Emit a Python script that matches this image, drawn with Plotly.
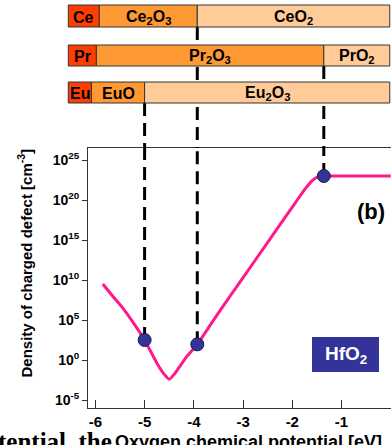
import plotly.graph_objects as go

# ---------------- data ----------------
# oxygen chemical potential (eV) and density of charged defect (cm^-3)
mu_o = [-5.85, -5.65, -5.43, -5.2, -5.0, -4.75, -4.6, -4.5, -4.4, -4.15, -3.93,
        -3.5, -3.0, -2.5, -2.0, -1.75, -1.6, -1.5, -1.42, -1.36, -0.7, 0.0]
density = [3.2e9, 1.0e8, 2.5e6, 2.5e4, 3.2e2, 0.4, 0.016, 0.004, 0.016, 2.5, 91,
           8.0e5, 2.0e10, 5.0e14, 1.3e19, 2.0e21, 2.5e22, 7.0e22, 1.0e23, 1.0e23, 1.0e23, 1.0e23]

# phase transition points marked with dots and dashed lines
trans_x = [-5.0, -3.93, -1.36]
trans_y = [3.2e2, 91, 1.0e23]

# phase bars (boundaries along the oxygen chemical potential)
ce_bounds = [-6.55, -5.92, -3.93, -0.02]
ce_labels = ["Ce", "Ce<sub>2</sub>O<sub>3</sub>", "CeO<sub>2</sub>"]
pr_bounds = [-6.55, -5.98, -1.36, -0.02]
pr_labels = ["Pr", "Pr<sub>2</sub>O<sub>3</sub>", "PrO<sub>2</sub>"]
eu_bounds = [-6.55, -6.08, -5.0, -0.02]
eu_labels = ["Eu", "EuO", "Eu<sub>2</sub>O<sub>3</sub>"]

x_tickvals = [-6, -5, -4, -3, -2, -1, 0]
x_ticktext = ["-6", "-5", "-4", "-3", "-2", "-1", "0"]
y_tickvals = [1e-5, 1e0, 1e5, 1e10, 1e15, 1e20, 1e25]
y_ticktext = ["10<sup>-5</sup>", "10<sup>0</sup>", "10<sup>5</sup>", "10<sup>10</sup>",
              "10<sup>15</sup>", "10<sup>20</sup>", "10<sup>25</sup>"]

# ---------------- layout geometry ----------------
W, H = 391, 445
PLOT_LEFT = 88          # px of y axis line
PLOT_TOP = 148          # px of plot top
PLOT_BOTTOM = 408       # px of x axis line
X_RANGE = [-6.15, 0.005]
Y_RANGE_LOG = [-6, 26.5]

px_per_unit = (W - PLOT_LEFT) / (X_RANGE[1] - X_RANGE[0])
x2_range = [X_RANGE[0] - PLOT_LEFT / px_per_unit, X_RANGE[1]]

rows_px = {"ce": (5, 27), "pr": (45, 66), "eu": (82, 103)}

FONT = "Liberation Sans, Arial, sans-serif"
PINK = "#FF1A8C"
DOT = "#333399"
COLS = ["#FF3D00", "#FF9933", "#FFCC99"]

fig = go.Figure()

# invisible trace to instantiate the overlay axes
fig.add_trace(go.Scatter(x=[x2_range[0]], y=[0], mode="markers", marker=dict(opacity=0),
                         hoverinfo="skip", showlegend=False, xaxis="x2", yaxis="y2"))

# dashed lines inside the plot (from dot upward, clipped by plot top)
for xv, yv in zip(trans_x, trans_y):
    fig.add_trace(go.Scatter(x=[xv, xv], y=[yv, 1e30], mode="lines",
                             line=dict(color="black", width=3, dash="13px,7px"),
                             hoverinfo="skip", showlegend=False, xaxis="x", yaxis="y"))

fig.add_trace(go.Scatter(x=mu_o, y=density, mode="lines",
                         line=dict(color=PINK, width=3, shape="spline", smoothing=0.5),
                         showlegend=False, xaxis="x", yaxis="y"))
fig.add_trace(go.Scatter(x=trans_x, y=trans_y, mode="markers",
                         marker=dict(color=DOT, size=13, line=dict(color="#1a1a4d", width=1)),
                         showlegend=False, xaxis="x", yaxis="y"))

shapes = []
annotations = []

# dashed lines above the plot (from the phase bar down to plot top)
line_starts = {trans_x[0]: rows_px["eu"][1], trans_x[1]: rows_px["ce"][1], trans_x[2]: rows_px["pr"][1]}
for xv in trans_x:
    shapes.append(dict(type="line", xref="x2", yref="y2", x0=xv, x1=xv,
                       y0=line_starts[xv], y1=PLOT_TOP,
                       line=dict(color="black", width=3, dash="13px,7px")))

for key, bounds, labels in [("ce", ce_bounds, ce_labels), ("pr", pr_bounds, pr_labels),
                            ("eu", eu_bounds, eu_labels)]:
    y0, y1 = rows_px[key]
    for i in range(3):
        shapes.append(dict(type="rect", xref="x2", yref="y2",
                           x0=bounds[i], x1=bounds[i + 1], y0=y0, y1=y1,
                           fillcolor=COLS[i], line=dict(color="#333333", width=1)))
        annotations.append(dict(xref="x2", yref="y2", x=(bounds[i] + bounds[i + 1]) / 2,
                                y=(y0 + y1) / 2 + 1, text=labels[i], showarrow=False,
                                font=dict(family=FONT, size=16, color="black", weight="bold"),
                                xanchor="center", yanchor="middle"))

# HfO2 label box
shapes.append(dict(type="rect", xref="paper", yref="paper",
                   x0=312 / W, x1=379 / W, y0=1 - 372 / PLOT_BOTTOM, y1=1 - 337 / PLOT_BOTTOM,
                   fillcolor=DOT, line=dict(width=0)))
annotations.append(dict(xref="paper", yref="paper", x=345.5 / W, y=1 - 354.5 / PLOT_BOTTOM,
                        text="HfO<sub>2</sub>", showarrow=False,
                        font=dict(family=FONT, size=19, color="white", weight="bold"),
                        xanchor="center", yanchor="middle"))
annotations.append(dict(xref="paper", yref="paper", x=371 / W, y=1 - 211 / PLOT_BOTTOM,
                        text="(b)", showarrow=False,
                        font=dict(family=FONT, size=22, color="black", weight="bold"),
                        xanchor="center", yanchor="middle"))
# axis titles
annotations.append(dict(xref="paper", yref="paper", x=25 / W, y=1 - 263.5 / PLOT_BOTTOM,
                        text="Density of charged defect [cm<sup>-3</sup>]", textangle=-90,
                        showarrow=False,
                        font=dict(family=FONT, size=15, color="black", weight="bold"),
                        xanchor="center", yanchor="middle"))
annotations.append(dict(xref="paper", yref="paper", x=248 / W, y=1 - 430 / PLOT_BOTTOM,
                        text="Oxygen chemical potential [eV]", showarrow=False,
                        font=dict(family=FONT, size=18, color="black", weight="bold"),
                        xanchor="center", yanchor="top"))
annotations.append(dict(xref="paper", yref="paper", x=-0.01, y=1 - 426 / PLOT_BOTTOM,
                        text="tential, the", showarrow=False,
                        font=dict(family="Liberation Serif, Times New Roman, serif", size=25,
                                  color="black", weight="bold"),
                        xanchor="left", yanchor="top"))

fig.update_layout(
    width=W, height=H,
    margin=dict(l=0, r=0, t=0, b=H - PLOT_BOTTOM, pad=0),
    paper_bgcolor="white", plot_bgcolor="rgba(0,0,0,0)",
    showlegend=False,
    shapes=shapes, annotations=annotations,
    xaxis=dict(domain=[PLOT_LEFT / W, 1], range=X_RANGE, anchor="y",
               tickvals=x_tickvals, ticktext=x_ticktext,
               ticks="inside", ticklen=8, tickcolor="#333333", tickwidth=1,
               showline=True, linecolor="#333333", linewidth=1, mirror=True,
               showgrid=False, zeroline=False,
               tickfont=dict(family=FONT, size=15, color="black", weight="bold")),
    yaxis=dict(domain=[0, (PLOT_BOTTOM - PLOT_TOP) / PLOT_BOTTOM], type="log",
               range=Y_RANGE_LOG, anchor="x",
               tickvals=y_tickvals, ticktext=y_ticktext,
               ticks="outside", ticklen=5, tickcolor="#333333", tickwidth=1,
               showline=True, linecolor="#333333", linewidth=1,
               showgrid=False, zeroline=False,
               tickfont=dict(family=FONT, size=14, color="black", weight="bold")),
    xaxis2=dict(domain=[0, 1], range=x2_range, anchor="y2", visible=False),
    yaxis2=dict(domain=[0, 1], range=[PLOT_BOTTOM, 0], anchor="x2", visible=False),
)

fig.write_html("out.html")
